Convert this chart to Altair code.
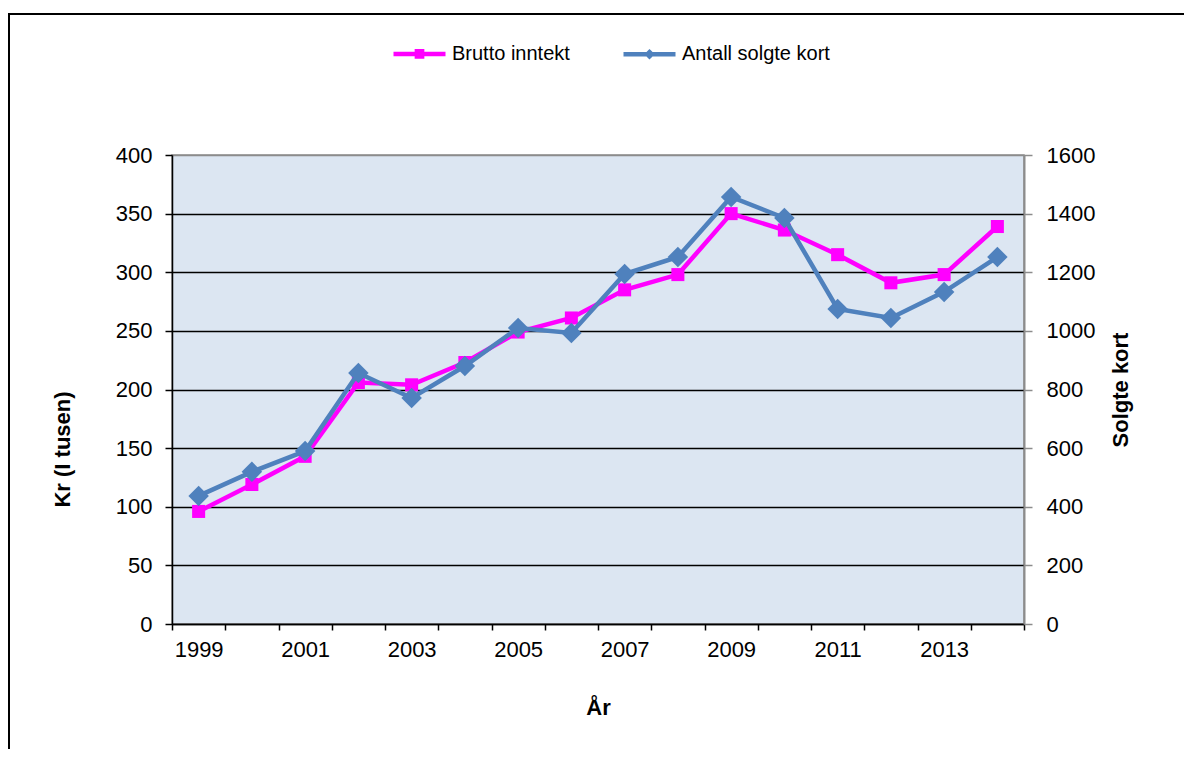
import altair as alt
import pandas as pd

years = [str(y) for y in range(1999, 2015)]
brutto = [96, 119, 143, 206, 204, 223, 249, 261, 285, 298, 350, 336, 315, 291, 298, 339]
antall = [437, 519, 590, 856, 771, 880, 1010, 993, 1194, 1252, 1457, 1385, 1075, 1044, 1133, 1252]
series = ["Brutto inntekt", "Antall solgte kort"]
colors = ["#FF00FF", "#4F81BD"]
left_ticks = [0, 50, 100, 150, 200, 250, 300, 350, 400]
right_ticks = [0, 200, 400, 600, 800, 1000, 1200, 1400, 1600]

df = pd.DataFrame({"År": years, "Brutto inntekt": brutto, "Antall solgte kort": antall})

FONT = "Liberation Sans"

legend_paths = [
    "M-1,0H1M-0.1,-0.1H0.1V0.1H-0.1Z",
    "M-1,0H1M0,-0.08L0.08,0L0,0.08L-0.08,0Z",
]

x = alt.X(
    "År:O",
    scale=alt.Scale(type="band", paddingInner=0, paddingOuter=0),
    axis=alt.Axis(
        title="År",
        labelAngle=0,
        tickBand="extent",
        labelOverlap=False,
        labelExpr="toNumber(datum.value) % 2 == 1 ? datum.label : ''",
        domainColor="#000000",
        domainWidth=1.5,
        tickColor="#000000",
        tickWidth=1.5,
        tickSize=6,
        labelPadding=9,
        titlePadding=37,
    ),
)

y_left = alt.Y(
    "Brutto inntekt:Q",
    scale=alt.Scale(domain=[0, 400], nice=False),
    axis=alt.Axis(
        title="Kr (I tusen)",
        values=left_ticks,
        grid=True,
        gridColor=alt.condition("datum.value == 400", alt.value("#8c8c8c"), alt.value("#000000")),
        gridWidth=1.3,
        domainColor="#000000",
        domainWidth=1.5,
        tickColor="#000000",
        tickWidth=1.5,
        tickSize=7,
        labelPadding=13,
        titleX=-98,
        titleY=294,
        titleAngle=270,
        titleBaseline="bottom",
        titleAlign="center",
    ),
)

y_right = alt.Y(
    "Antall solgte kort:Q",
    scale=alt.Scale(domain=[0, 1600], nice=False),
    axis=alt.Axis(
        title="Solgte kort",
        orient="right",
        values=right_ticks,
        format="d",
        grid=False,
        domainColor="#8c8c8c",
        domainWidth=2,
        tickColor="#8c8c8c",
        tickWidth=1.5,
        tickSize=8,
        labelPadding=14,
        titlePadding=16,
        titleAngle=270,
        titleBaseline="top",
    ),
)

base = alt.Chart(df)

line_b = base.mark_line(color=colors[0], strokeWidth=4.5).encode(x=x, y=y_left)
pts_b = base.mark_point(shape="square", filled=True, size=170, opacity=1, color=colors[0]).encode(x=x, y=y_left)

legend_kw = dict(
    title=None,
    orient="none",
    direction="horizontal",
    legendX=219,
    legendY=-130,
    labelFont=FONT,
    labelFontSize=20,
    labelColor="#000000",
    labelOffset=4,
    symbolSize=2704,
    symbolStrokeWidth=4.5,
    symbolOpacity=1,
    columnPadding=44,
    padding=0,
)

legend_layer = (
    base.transform_fold(series, as_=["Serie", "Verdi"])
    .mark_point(opacity=0, filled=True)
    .encode(
        x=x,
        y=y_left,
        fill=alt.Fill("Serie:N", scale=alt.Scale(domain=series, range=colors), legend=alt.Legend(**legend_kw)),
        stroke=alt.Stroke("Serie:N", scale=alt.Scale(domain=series, range=colors), legend=alt.Legend(**legend_kw)),
        shape=alt.Shape("Serie:N", scale=alt.Scale(domain=series, range=legend_paths), legend=alt.Legend(**legend_kw)),
    )
)

left = alt.layer(line_b, pts_b, legend_layer)

line_a = base.mark_line(color=colors[1], strokeWidth=4.5).encode(x=x, y=y_right)
pts_a = base.mark_point(shape="diamond", filled=True, size=420, opacity=1, color=colors[1]).encode(x=x, y=y_right)
right = alt.layer(line_a, pts_a)

frame = alt.Chart(df).mark_rule(color="#000000", strokeWidth=2).encode(
    x=alt.value(-164), x2=alt.value(1012), y=alt.value(-141)
)
frame_l = alt.Chart(df).mark_rule(color="#000000", strokeWidth=2).encode(
    x=alt.value(-163), y=alt.value(-142), y2=alt.value(594)
)

chart = (
    alt.layer(left, right, frame, frame_l)
    .resolve_scale(y="independent")
    .properties(
        width=852,
        height=469,
        autosize=alt.AutoSizeParams(type="none"),
        padding={"left": 164, "top": 147, "right": 160, "bottom": 125},
        background="#ffffff",
    )
    .configure_view(fill="#DCE6F2", stroke="#8c8c8c", strokeWidth=1.5)
    .configure_axis(
        labelFont=FONT,
        labelFontSize=22,
        labelColor="#000000",
        titleFont=FONT,
        titleFontSize=22,
        titleFontWeight="bold",
        titleColor="#000000",
    )
)

chart.save("out.html", embed_options={"renderer": "svg", "actions": False})
